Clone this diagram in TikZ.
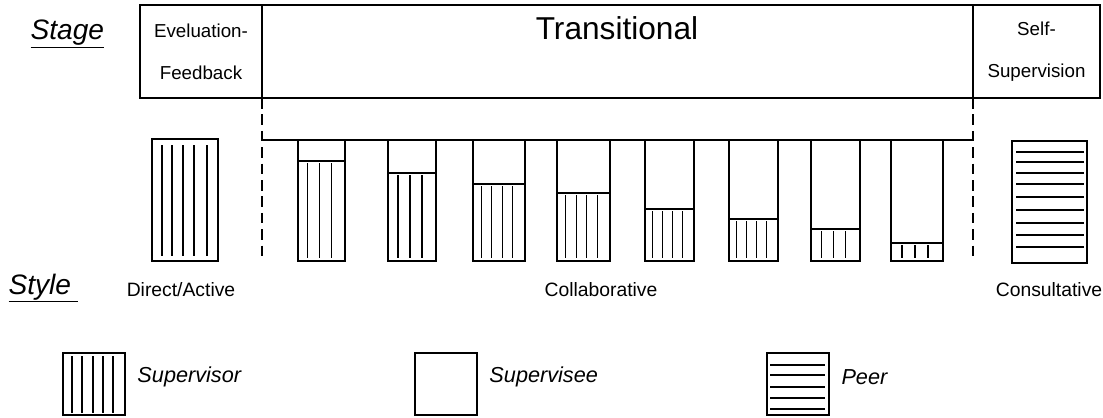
\documentclass[tikz,border=0pt]{standalone}
\usepackage{fontspec}
\setmainfont{Liberation Sans}
\usetikzlibrary{positioning}
\begin{document}
\begin{tikzpicture}[
        x=0.03cm, y=-0.03cm,
        line width=1pt,
        stagebox/.style={draw, line width=1.1pt, anchor=north west, outer sep=0pt, minimum height=93*0.03cm, inner sep=0pt},
        boxtext/.style={align=center, font=\fontsize{16}{36}\selectfont},
        rowtitle/.style={anchor=west, inner sep=0pt, font=\fontsize{24}{26}\selectfont\itshape},
        stylelabel/.style={font=\fontsize{16.5}{20}\selectfont},
        legendbox/.style={draw, line width=1.1pt, anchor=north west, outer sep=0pt, minimum width=62*0.03cm, minimum height=62*0.03cm, inner sep=0pt},
        legendtext/.style={right=0.24cm of #1, yshift=0.2cm, font=\fontsize{18.5}{22}\selectfont\itshape},
        hatch/.style={line width=1pt},
        divider/.style={dash pattern=on 9pt off 5pt, line width=1pt}
    ]
    \useasboundingbox (0,0) rectangle (1103,417);

    \node[rowtitle] (stagetitle) at (30,34) {\underline{Stage}};
    \node[rowtitle] (styletitle) at (8,288) {\underline{Style\hspace{6pt}}};

    \node[stagebox, boxtext, minimum width=122*0.03cm] (evalbox) at (140,5) {Eveluation-\\Feedback};
    \node[stagebox, minimum width=711*0.03cm] (transbox) at (evalbox.north east) {};
    \node[stagebox, boxtext, minimum width=127*0.03cm] (selfbox) at (transbox.north east) {Self-\\Supervision};
    \node[font=\fontsize{27}{30}\selectfont] (transtext) at (617,28) {Transitional};

    \coordinate (railleft) at (262,140);
    \coordinate (railright) at (973,140);
    \coordinate (divleft) at (262,258);
    \coordinate (divright) at (973,258);
    \draw[divider] (evalbox.south east) -- (divleft);
    \draw[divider] (transbox.south east) -- (divright);
    \draw (railleft) -- (railright);

    \draw (152,139) rectangle (218,261);
    \foreach \x in {162,172,183,194,207}
        \draw[hatch] (\x,145) -- (\x,256);

    \foreach \lft/\rgt/\lev/\cnt in {298/345/161/3, 388/436/173/3, 473/525/184/4, 557/610/193/4,
                                     645/694/209/4, 729/778/219/4, 811/860/229/3, 891/943/243/3}{
        \draw (\lft,140) rectangle (\rgt,261);
        \draw (\lft,\lev) -- (\rgt,\lev);
        \foreach \k in {1,...,\cnt}
            \draw[hatch] ({\lft+(\rgt-\lft)*\k/(\cnt+1)-2},{\lev+2}) -- ({\lft+(\rgt-\lft)*\k/(\cnt+1)-2},258);
    }

    \draw (1012,141) rectangle (1087,263);
    \foreach \y in {152,162,173,184,197,210,223,235,247}
        \draw[hatch] (1016,\y) -- (1084,\y);

    \node[stylelabel] (directlbl) at (181,290) {Direct/Active};
    \node[stylelabel] (collablbl) at (601,290) {Collaborative};
    \node[stylelabel] (consultlbl) at (1049,290) {Consultative};

    \node[legendbox] (supbox) at (63,353) {};
    \foreach \x in {72,82,93,103,113}
        \draw[hatch] (\x,356) -- (\x,413);
    \node[legendtext=supbox] (suptext) {Supervisor};

    \node[legendbox] (seebox) at (415,353) {};
    \node[legendtext=seebox] (seetext) {Supervisee};

    \node[legendbox] (peerbox) at (767,353) {};
    \foreach \y in {365,375,387,398,409}
        \draw[hatch] (770,\y) -- (825,\y);
    \node[legendtext=peerbox] (peertext) {Peer};
\end{tikzpicture}
\end{document}
